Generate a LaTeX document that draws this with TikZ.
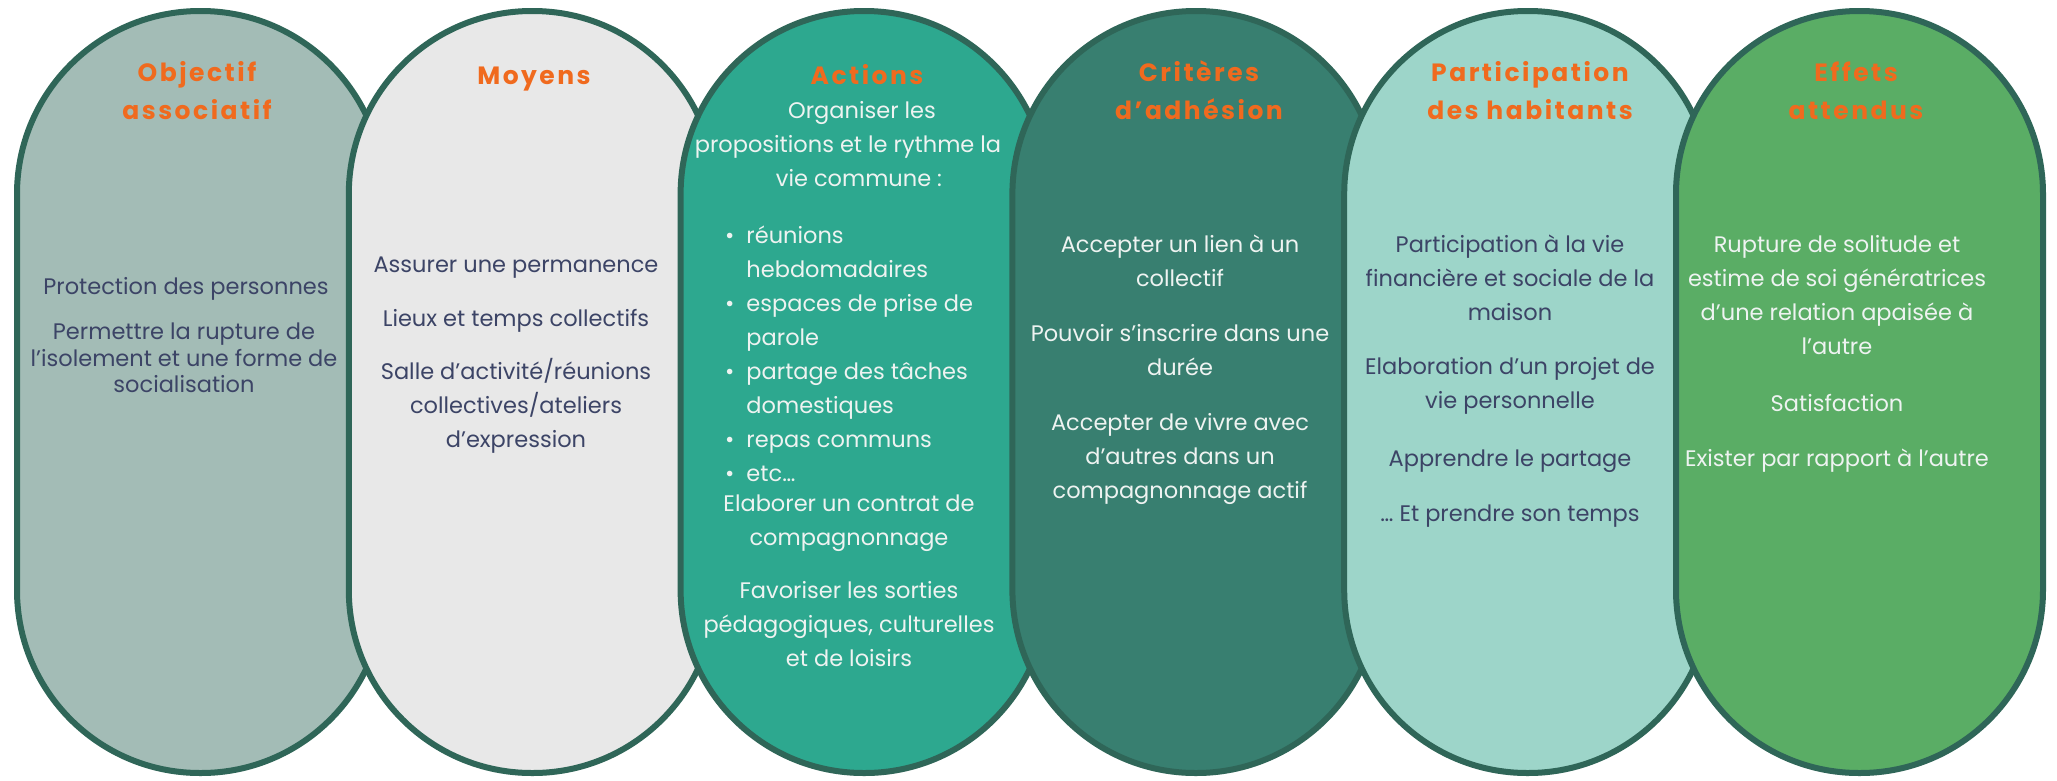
\documentclass[tikz,border=0pt]{standalone}
\usepackage{fontspec}
\setmainfont{Poppins}
\usetikzlibrary{shadows}
\definecolor{bordc}{HTML}{2F6658}
\definecolor{fillA}{HTML}{A3BCB6}
\definecolor{fillB}{HTML}{E8E8E8}
\definecolor{fillC}{HTML}{2DA88F}
\definecolor{fillD}{HTML}{387F70}
\definecolor{fillE}{HTML}{9DD5C9}
\definecolor{fillF}{HTML}{5AAD65}
\definecolor{orangec}{HTML}{F06A1E}
\definecolor{darktxt}{HTML}{3C4466}
\definecolor{lighttxt}{HTML}{EEF3F1}
\begin{document}
\begin{tikzpicture}[x=1pt,y=-1pt,
  pill/.style={draw=bordc, line width=6pt, rounded corners=183pt,
    minimum width=367pt, minimum height=762pt, inner sep=0pt,
    drop shadow={opacity=0.18, shadow xshift=0pt, shadow yshift=-3pt}},
  ttl/.style={text=orangec, align=center, inner sep=0pt,
    font=\fontsize{25}{38}\selectfont\bfseries\addfontfeatures{LetterSpace=10},
    execute at begin node=\strut, execute at end node=\strut},
  body/.style={align=center, inner sep=0pt,
    font=\fontsize{22.5}{34}\selectfont,
    execute at begin node=\strut, execute at end node=\strut},
  bodytight/.style={body, font=\fontsize{22.5}{26.5}\selectfont},
  dk/.style={text=darktxt},
  lt/.style={text=lighttxt}]
\useasboundingbox (0,0) rectangle (2057,780);
\fill[white] (0,0) rectangle (2057,780);
% pills
\node[pill, fill=fillA] (p1) at (200.5,392) {};
\node[pill, fill=fillB] (p2) at (532.3,392) {};
\node[pill, fill=fillC] (p3) at (864.1,392) {};
\node[pill, fill=fillD] (p4) at (1195.9,392) {};
\node[pill, fill=fillE] (p5) at (1527.7,392) {};
\node[pill, fill=fillF] (p6) at (1859.5,392) {};
% column 1
\node[ttl] (t1) at (197,96) {Objectif\\associatif};
\node[body,dk] (b1a) at (186,288) {Protection des personnes};
\node[bodytight,dk] (b1b) at (184,362) {Permettre la rupture de\\l’isolement et une forme de\\socialisation};
% column 2
\node[ttl] (t2) at (534,77) {Moyens};
\node[body,dk] (b2a) at (516,266) {Assurer une permanence};
\node[body,dk] (b2b) at (516,320) {Lieux et temps collectifs};
\node[body,dk] (b2c) at (516,408) {Salle d’activité/réunions\\collectives/ateliers\\d’expression};
% column 3
\node[ttl] (t3) at (867,77) {Actions};
\node[body,lt] (b3a) at (848,149) {\hspace*{28pt}Organiser les\\propositions et le rythme la\\\hspace*{22pt}vie commune :};
\node[body,lt,anchor=west] (b3b) at (725,356) {\begin{tabular}{@{}l@{\hspace{12pt}}l@{}}
\textbullet & réunions\\
 & hebdomadaires\\
\textbullet & espaces de prise de\\
 & parole\\
\textbullet & partage des tâches\\
 & domestiques\\
\textbullet & repas communs\\
\textbullet & etc…
\end{tabular}};
\node[body,lt] (b3c) at (849,525) {Elaborer un contrat de\\compagnonnage};
\node[body,lt] (b3d) at (849,629) {Favoriser les sorties\\pédagogiques, culturelles\\et de loisirs};
% column 4
\node[ttl] (t4) at (1199,96) {Critères\\d’adhésion};
\node[body,lt] (b4a) at (1180,266) {Accepter un lien à un\\collectif};
\node[body,lt] (b4b) at (1180,355) {Pouvoir s’inscrire dans une\\durée};
\node[body,lt] (b4c) at (1180,461) {Accepter de vivre avec\\d’autres dans un\\compagnonnage actif};
% column 5
\node[ttl] (t5) at (1530,96) {Participation\\des habitants};
\node[body,dk] (b5a) at (1510,283) {Participation à la vie\\financière et sociale de la\\maison};
\node[body,dk] (b5b) at (1510,388) {Elaboration d’un projet de\\vie personnelle};
\node[body,dk] (b5c) at (1510,460) {Apprendre le partage};
\node[body,dk] (b5d) at (1510,515) {… Et prendre son temps};
% column 6
\node[ttl] (t6) at (1856,96) {Effets\\attendus};
\node[body,lt] (b6a) at (1837,300) {Rupture de solitude et\\estime de soi génératrices\\d’une relation apaisée à\\l’autre};
\node[body,lt] (b6b) at (1837,405) {Satisfaction};
\node[body,lt] (b6c) at (1837,460) {Exister par rapport à l’autre};
\end{tikzpicture}
\end{document}
